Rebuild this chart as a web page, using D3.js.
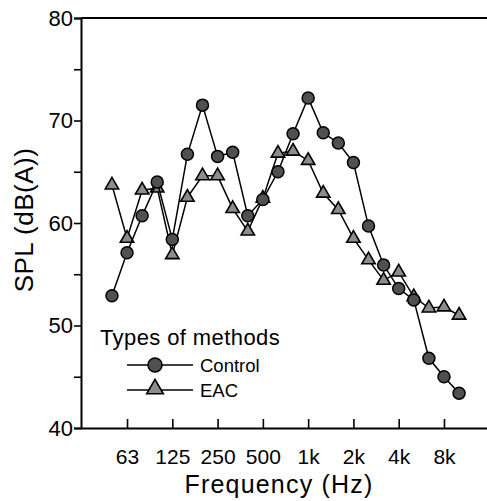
<!DOCTYPE html>
<html>
<head>
<meta charset="utf-8">
<script src="https://cdn.jsdelivr.net/npm/d3@7"></script>
<style>
  html, body { margin: 0; padding: 0; background: #fff; }
  svg text { font-family: 'Liberation Sans', Arial, sans-serif; fill: #000; }
</style>
</head>
<body>
<div id="chart"></div>
<script>
// 1/3-octave bands, 50 Hz .. 10 kHz
const bands = ['50', '63', '80', '100', '125', '160', '200', '250', '315', '400', '500', '630',
    '800', '1k', '1.25k', '1.6k', '2k', '2.5k', '3.15k', '4k', '5k', '6.3k', '8k', '10k'];
const tickBands = ['63', '125', '250', '500', '1k', '2k', '4k', '8k'];
const yTicks = [40, 50, 60, 70, 80];
const yMinor = [45, 55, 65, 75];

const control = [52.9, 57.1, 60.7, 64.0, 58.4, 66.7, 71.5, 66.5, 66.9, 60.7, 62.3, 65.0,
    68.7, 72.2, 68.8, 67.8, 65.9, 59.7, 55.9, 53.6, 52.5, 46.8, 45.0, 43.4];
const eac = [63.7, 58.5, 63.2, 63.4, 56.9, 62.5, 64.6, 64.6, 61.4, 59.2, 62.4, 66.8,
    67.0, 66.1, 62.9, 61.3, 58.5, 56.4, 54.4, 55.2, 52.8, 51.7, 51.8, 51.0];

const dims = { width: 487, height: 501, left: 81, right: 487, top: 18, bottom: 428 };

const svg = d3.select('#chart').append('svg')
    .attr('width', dims.width)
    .attr('height', dims.height);

const x = d3.scaleLinear()
    .domain([-2.05, 24.85])
    .range([dims.left, dims.right]);
const y = d3.scaleLinear()
    .domain([40, 80])
    .range([dims.bottom, dims.top]);

const idx = b => bands.indexOf(b);

// axes
const yAxis = d3.axisLeft(y)
    .tickValues(yTicks.concat(yMinor))
    .tickSize(7)
    .tickFormat(d => (yTicks.includes(d) ? d : ''));
const gy = svg.append('g')
    .attr('transform', `translate(${dims.left},0)`)
    .call(yAxis);
gy.select('.domain').attr('stroke-width', 2);
gy.selectAll('.tick line').attr('stroke-width', 1.6);
gy.selectAll('.tick text')
    .attr('x', -8)
    .style('font-size', '22px');

const xAxis = d3.axisBottom(x)
    .tickValues(tickBands.map(idx))
    .tickSizeInner(-9)
    .tickSizeOuter(0)
    .tickFormat(i => bands[i]);
const gx = svg.append('g')
    .attr('transform', `translate(0,${dims.bottom})`)
    .call(xAxis);
gx.select('.domain').attr('stroke-width', 2);
gx.selectAll('.tick line').attr('stroke-width', 1.6);
gx.selectAll('.tick text')
    .attr('y', 21)
    .style('font-size', '21px');

svg.append('line')
    .attr('x1', dims.left).attr('x2', dims.right)
    .attr('y1', dims.top).attr('y2', dims.top)
    .attr('stroke', '#000')
    .attr('stroke-width', 2);

// titles
svg.append('text')
    .attr('x', 279)
    .attr('y', 493)
    .attr('text-anchor', 'middle')
    .style('font-size', '25px')
    .style('letter-spacing', '1.2px')
    .text('Frequency (Hz)');

svg.append('text')
    .attr('transform', `translate(33,220) rotate(-90)`)
    .attr('text-anchor', 'middle')
    .style('font-size', '26px')
    .style('letter-spacing', '0.5px')
    .text('SPL (dB(A))');

// series
const line = d3.line()
    .x((d, i) => x(i))
    .y(d => y(d));

const tri = d3.symbol().type(d3.symbolTriangle).size(78);

svg.append('path')
    .datum(eac)
    .attr('fill', 'none')
    .attr('stroke', '#000')
    .attr('stroke-width', 1.5)
    .attr('d', line);
svg.append('g')
    .selectAll('path')
    .data(eac)
    .enter()
    .append('path')
    .attr('d', tri)
    .attr('transform', (d, i) => `translate(${x(i)},${y(d)})`)
    .attr('fill', '#8c8c8c')
    .attr('stroke', '#000')
    .attr('stroke-width', 1.6);

svg.append('path')
    .datum(control)
    .attr('fill', 'none')
    .attr('stroke', '#000')
    .attr('stroke-width', 1.5)
    .attr('d', line);
svg.append('g')
    .selectAll('circle')
    .data(control)
    .enter()
    .append('circle')
    .attr('cx', (d, i) => x(i))
    .attr('cy', d => y(d))
    .attr('r', 6)
    .attr('fill', '#505050')
    .attr('stroke', '#000')
    .attr('stroke-width', 1.5);

// legend
const legend = svg.append('g');
legend.append('text')
    .attr('x', 100)
    .attr('y', 345)
    .style('font-size', '22px')
    .style('letter-spacing', '0.4px')
    .text('Types of methods');

const items = [
    { name: 'Control', y: 365 },
    { name: 'EAC', y: 390 }
];
items.forEach(it => {
    legend.append('line')
        .attr('x1', 127).attr('x2', 193)
        .attr('y1', it.y).attr('y2', it.y)
        .attr('stroke', '#000')
        .attr('stroke-width', 1.5);
    legend.append('text')
        .attr('x', 200)
        .attr('y', it.y + 7)
        .style('font-size', '18.5px')
        .text(it.name);
});
legend.append('circle')
    .attr('cx', 155).attr('cy', 365)
    .attr('r', 7)
    .attr('fill', '#505050')
    .attr('stroke', '#000')
    .attr('stroke-width', 1.5);
legend.append('path')
    .attr('d', d3.symbol().type(d3.symbolTriangle).size(120))
    .attr('transform', 'translate(155,389)')
    .attr('fill', '#8c8c8c')
    .attr('stroke', '#000')
    .attr('stroke-width', 1.6);
</script>
</body>
</html>
